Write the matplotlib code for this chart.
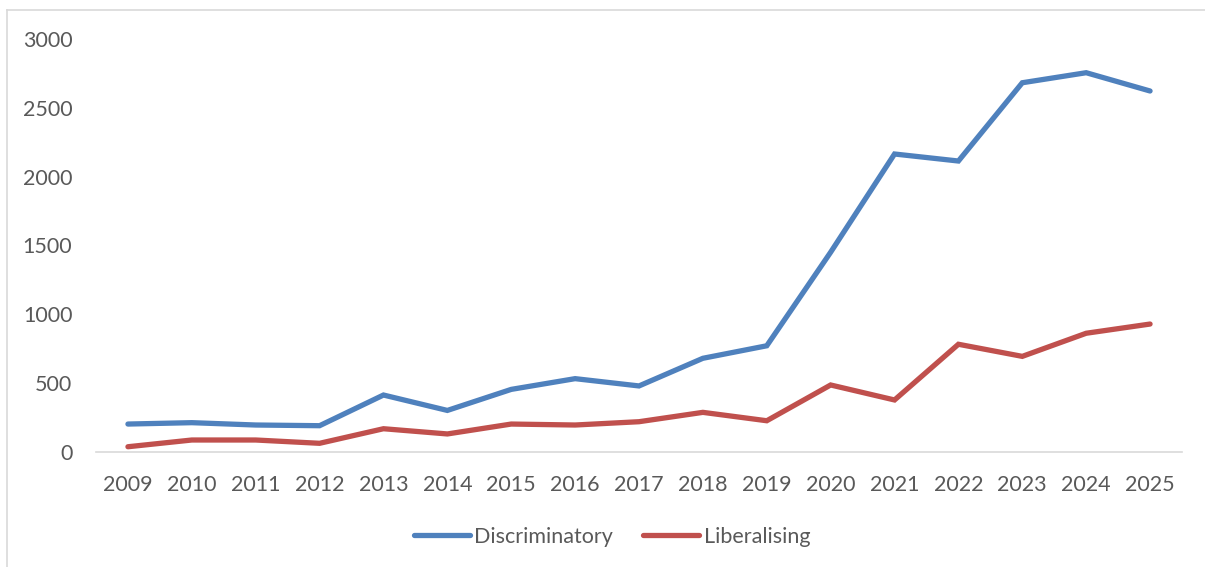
import matplotlib.pyplot as plt
from matplotlib.lines import Line2D

years = [str(y) for y in range(2009, 2026)]
discriminatory = [201, 211, 194, 189, 412, 300, 453, 531, 478, 679, 770, 1450,
                  2164, 2113, 2682, 2755, 2622]
liberalising = [36, 85, 85, 61, 167, 129, 201, 194, 218, 286, 225, 485,
                376, 781, 693, 861, 928]

plt.rcParams['font.family'] = ['Lato', 'DejaVu Sans']
text_col = '#595959'

fig = plt.figure(figsize=(12.05, 5.67), dpi=100)
ax = fig.add_axes([96 / 1205, 1 - 451.7 / 567, (1182 - 96) / 1205, (451.7 - 39) / 567])

x = range(len(years))
ax.plot(x, discriminatory, color='#4F81BD', lw=3.8, solid_capstyle='round',
        solid_joinstyle='miter', label='Discriminatory')
ax.plot(x, liberalising, color='#C0504D', lw=3.8, solid_capstyle='round',
        solid_joinstyle='miter', label='Liberalising')

ax.set_xlim(-0.5, len(years) - 0.5)
ax.set_ylim(0, 3000)
ax.set_xticks(list(x))
ax.set_xticklabels(years)
ax.set_yticks(range(0, 3001, 500))

for s in ['top', 'right', 'left']:
    ax.spines[s].set_visible(False)
ax.spines['bottom'].set_color('#D9D9D9')
ax.spines['bottom'].set_linewidth(1.2)
ax.tick_params(axis='both', length=0, labelsize=15.5, colors=text_col)
ax.tick_params(axis='x', pad=16.5)
ax.tick_params(axis='y', pad=17)

leg = fig.legend(loc='center', bbox_to_anchor=(0.508, 1 - 537 / 567), ncol=2,
                 frameon=False, fontsize=15.5, handlelength=2.6,
                 handletextpad=0.2, columnspacing=1.4)
for t in leg.get_texts():
    t.set_color(text_col)

# outer chart border (left and top visible)
fig.add_artist(Line2D([7.5 / 1205, 7.5 / 1205], [0, 1 - 9.5 / 567],
                      transform=fig.transFigure, color='#D9D9D9', lw=1.2))
fig.add_artist(Line2D([7.5 / 1205, 1], [1 - 9.5 / 567, 1 - 9.5 / 567],
                      transform=fig.transFigure, color='#D9D9D9', lw=1.2))

fig.savefig('out.png', dpi=100)
